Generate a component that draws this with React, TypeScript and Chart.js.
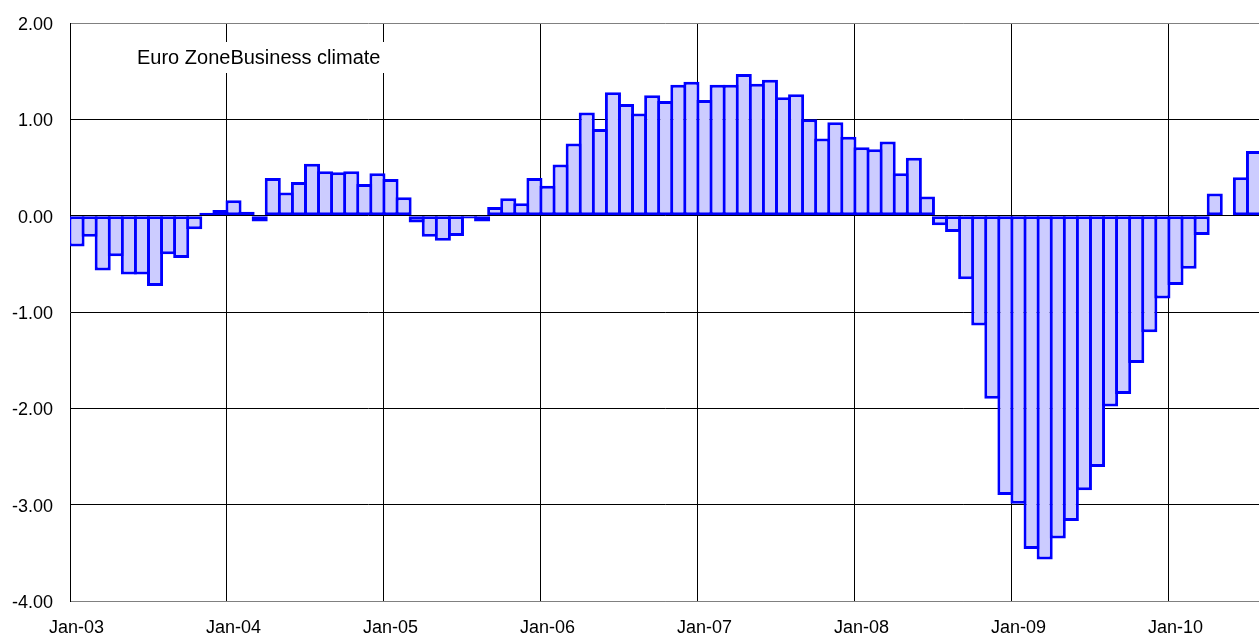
import React, { useEffect, useRef } from 'react';
import { Chart, registerables } from 'chart.js';

Chart.register(...registerables);

// Category building blocks (monthly, Jan-03 .. Jul-10)
const monthNames = ['Jan', 'Feb', 'Mar', 'Apr', 'May', 'Jun', 'Jul', 'Aug', 'Sep', 'Oct', 'Nov', 'Dec'];
const yearSuffixes = ['03', '04', '05', '06', '07', '08', '09', '10'];

// Business climate indicator, one array per year
const values2003 = [-0.32, -0.22, -0.57, -0.42, -0.61, -0.61, -0.73, -0.4, -0.44, -0.14, 0.03, 0.06];
const values2004 = [0.16, 0.04, -0.06, 0.39, 0.24, 0.35, 0.54, 0.46, 0.45, 0.46, 0.33, 0.44];
const values2005 = [0.38, 0.19, -0.07, -0.22, -0.26, -0.21, -0.03, -0.06, 0.09, 0.18, 0.13, 0.39];
const values2006 = [0.31, 0.53, 0.75, 1.07, 0.9, 1.28, 1.16, 1.06, 1.25, 1.19, 1.36, 1.39];
const values2007 = [1.2, 1.36, 1.36, 1.47, 1.37, 1.41, 1.23, 1.26, 1.0, 0.8, 0.97, 0.82];
const values2008 = [0.71, 0.69, 0.77, 0.44, 0.6, 0.2, -0.1, -0.17, -0.66, -1.14, -1.9, -2.9];
const values2009 = [-2.99, -3.46, -3.57, -3.35, -3.17, -2.85, -2.61, -1.98, -1.85, -1.53, -1.21, -0.86];
const values2010 = [-0.72, -0.55, -0.2, 0.23, null, 0.4, 0.67];

const businessClimate: (number | null)[] = [
  ...values2003,
  ...values2004,
  ...values2005,
  ...values2006,
  ...values2007,
  ...values2008,
  ...values2009,
  ...values2010,
];

const categories: string[] = yearSuffixes
  .flatMap((y) => monthNames.map((m) => `${m}-${y}`))
  .slice(0, businessClimate.length);

const yTickValues = [2, 1, 0, -1, -2, -3, -4];
const chartTitle = 'Euro ZoneBusiness climate';

const FONT = '"Liberation Sans", Arial, Helvetica, sans-serif';

export default function App() {
  const canvasRef = useRef<HTMLCanvasElement | null>(null);

  useEffect(() => {
    if (!canvasRef.current) return;

    const titlePlugin = {
      id: 'boxedTitle',
      afterDraw(chart: any) {
        const { ctx, chartArea } = chart;
        ctx.save();
        ctx.fillStyle = '#ffffff';
        ctx.fillRect(chartArea.left + 60, chartArea.top + 19, 258, 31);
        ctx.fillStyle = '#000000';
        ctx.font = `20px ${FONT}`;
        ctx.textAlign = 'left';
        ctx.textBaseline = 'alphabetic';
        ctx.fillText(chartTitle, chartArea.left + 67, chartArea.top + 41);
        ctx.restore();
      },
    };

    const chart = new Chart(canvasRef.current, {
      type: 'bar',
      data: {
        labels: categories,
        datasets: [
          {
            label: chartTitle,
            data: businessClimate,
            backgroundColor: '#CCCCFF',
            borderColor: '#0000FF',
            borderWidth: 3,
            borderSkipped: false,
            barPercentage: 1.2275,
            categoryPercentage: 1,
          },
        ],
      },
      options: {
        animation: false,
        responsive: true,
        maintainAspectRatio: false,
        layout: { padding: { top: 23, left: 0, right: 0, bottom: 0 } },
        plugins: {
          legend: { display: false },
          tooltip: { enabled: false },
          title: { display: false },
        },
        scales: {
          x: {
            type: 'category',
            offset: true,
            grid: {
              offset: true,
              drawTicks: false,
              lineWidth: 1,
              color: (ctx: any) => (ctx.index % 12 === 0 && ctx.index > 0 ? '#000000' : 'rgba(0,0,0,0)'),
            },
            border: { display: true, color: '#808080', width: 1 },
            ticks: {
              autoSkip: false,
              maxRotation: 0,
              minRotation: 0,
              padding: 16,
              color: '#000000',
              font: { family: FONT, size: 18 },
              callback: (_v: any, i: number) => (i % 12 === 0 ? categories[i] : ''),
            },
            afterFit: (scale: any) => {
              scale.height = 35;
            },
          },
          y: {
            type: 'linear',
            min: -4,
            max: 2,
            afterBuildTicks: (scale: any) => {
              scale.ticks = yTickValues.map((v) => ({ value: v }));
            },
            grid: {
              drawTicks: false,
              lineWidth: 1,
              color: (ctx: any) =>
                ctx.tick && (ctx.tick.value === 2 || ctx.tick.value === -4) ? '#808080' : '#000000',
            },
            border: { display: true, color: '#000000', width: 1 },
            ticks: {
              padding: 17,
              labelOffset: 2,
              color: '#000000',
              font: { family: FONT, size: 18 },
              callback: (v: any) => Number(v).toFixed(2),
            },
            afterFit: (scale: any) => {
              scale.width = 70;
              scale.paddingTop = 10;
              scale.paddingBottom = 10;
            },
          },
        },
      },
      plugins: [titlePlugin],
    });

    return () => {
      chart.destroy();
    };
  }, []);

  return (
    <div
      style={{
        position: 'absolute',
        left: 0,
        top: 0,
        width: 1259,
        height: 636,
        overflow: 'hidden',
        background: '#ffffff',
      }}
    >
      <div style={{ position: 'relative', width: 1270, height: 636 }}>
        <canvas ref={canvasRef} />
      </div>
    </div>
  );
}
